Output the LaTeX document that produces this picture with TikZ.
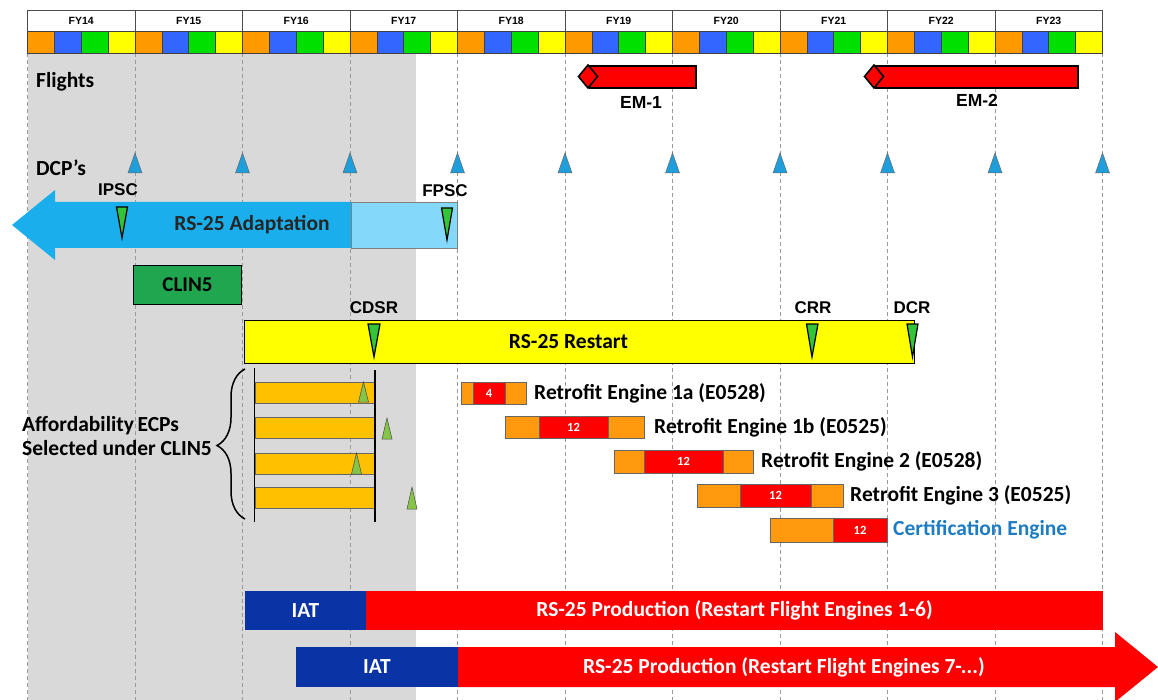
\documentclass[tikz,border=0pt]{standalone}
\usepackage{fontspec}
\setmainfont{Carlito}
\newfontfamily\arialf{Liberation Sans}
\usetikzlibrary{decorations.pathreplacing}
\definecolor{graybg}{HTML}{D9D9D9}
\definecolor{qorange}{HTML}{FF9900}
\definecolor{qblue}{HTML}{3366FF}
\definecolor{qgreen}{HTML}{00E000}
\definecolor{qyellow}{HTML}{FFFF00}
\definecolor{adaptblue}{HTML}{1AAFEC}
\definecolor{adaptlight}{HTML}{84D8FA}
\definecolor{clingreen}{HTML}{1FA64F}
\definecolor{dcpblue}{HTML}{1E9FDB}
\definecolor{msgreen}{HTML}{33C43A}
\definecolor{ecpgreen}{HTML}{86C448}
\definecolor{ecporange}{HTML}{FFC000}
\definecolor{retorange}{HTML}{FF9A0E}
\definecolor{barred}{HTML}{FF0000}
\definecolor{iatblue}{HTML}{0A33A6}
\definecolor{certblue}{HTML}{1E7CC2}
\begin{document}
\begin{tikzpicture}[x=1pt,y=-1pt,
  gridline/.style={draw=gray!80, dashed, line width=0.6pt, dash pattern=on 4pt off 3pt},
  fybox/.style={draw=gray!60!black, line width=0.6pt, fill=white, minimum width=107.5pt, minimum height=21.5pt, inner sep=0pt, font=\arialf\bfseries\fontsize{10.5}{12}\selectfont},
  cell/.style={draw=black!75, line width=0.6pt},
  dcp/.style={fill=dcpblue, draw=black!60, line width=0.5pt},
  ms/.style={fill=msgreen, draw=black, line width=1.2pt, line join=miter},
  ecp/.style={fill=ecpgreen, draw=black!70, line width=0.5pt},
  arl/.style={font=\arialf\bfseries\fontsize{17}{19}\selectfont, inner sep=0pt},
  cal/.style={font=\bfseries\fontsize{21.5}{24}\selectfont, inner sep=0pt},
  num/.style={font=\bfseries\fontsize{12.5}{14}\selectfont, text=white, inner sep=0pt},
  retbox/.style={fill=retorange, draw=black!60, line width=0.6pt},
  redbox/.style={fill=barred, draw=black!60, line width=0.6pt},
  ecpbar/.style={fill=ecporange, draw=black!60, line width=0.5pt},
  flight/.style={fill=barred, draw=black, line width=1.6pt},
  bracestyle/.style={draw=black, line width=1.5pt, decorate, decoration={brace, amplitude=28pt, aspect=0.49}}
]
\useasboundingbox (0,0) rectangle (1158,700);
% background grey region
\fill[graybg] (27.5,53) rectangle (416,700);
% grid lines
\foreach \i in {0,...,10} \draw[gridline] ({27.5+107.5*\i},53) -- ({27.5+107.5*\i},700);
% header
\foreach \i/\lab in {0/FY14,1/FY15,2/FY16,3/FY17,4/FY18,5/FY19,6/FY20,7/FY21,8/FY22,9/FY23}{
  \node[fybox] (fy\i) at ({27.5+107.5*\i+53.75},20.75) {\lab};
  \foreach \q/\c in {0/qorange,1/qblue,2/qgreen,3/qyellow}
    \draw[cell, fill=\c] ({27.5+107.5*\i+26.875*\q},31.5) rectangle ++(26.875,21.5);
}
% Flights
\node[cal, anchor=west] (flights) at (36,82) {Flights};
\draw[flight] (590,66) rectangle (696,88);
\draw[flight] (588,65) -- (597.5,76.5) -- (588,88) -- (578.5,76.5) -- cycle;
\node[arl, font=\arialf\bfseries\fontsize{17.5}{19}\selectfont] (em1) at (641,102) {EM-1};
\draw[flight] (876,66) rectangle (1078,88);
\draw[flight] (874,65) -- (883.5,76.5) -- (874,88) -- (864.5,76.5) -- cycle;
\node[arl, font=\arialf\bfseries\fontsize{17.5}{19}\selectfont] (em2) at (977,100) {EM-2};
% DCP's
\node[cal, anchor=west] (dcp) at (36,168) {DCP’s};
\foreach \i in {1,...,10} \draw[dcp] ({27.5+107.5*\i},153) -- ({27.5+107.5*\i+7},173) -- ({27.5+107.5*\i-7},173) -- cycle;
% RS-25 Adaptation arrow
\fill[adaptblue] (12,225) -- (55,190) -- (55,202) -- (351,202) -- (351,248) -- (55,248) -- (55,260) -- cycle;
\fill[adaptlight] (351,202) rectangle (457,248);
\draw[black!50, line width=0.5pt] (351,202) -- (457,202) -- (457,248) -- (351,248) -- cycle;
\node[cal, text=black!85] (adapt) at (252,225) {RS-25 Adaptation};
\node[arl] (ipsc) at (118,190) {IPSC};
\draw[ms] (116.5,207) -- (127.5,207) -- (122,238) -- cycle;
\node[arl] (fpsc) at (445,191) {FPSC};
\draw[ms] (441.5,208) -- (452.5,208) -- (447,240) -- cycle;
% CLIN5
\node[draw=black, line width=1pt, fill=clingreen, minimum width=108pt, minimum height=39pt, inner sep=0pt, font=\bfseries\fontsize{21}{24}\selectfont] (clin5) at (187.5,285) {CLIN5};
% RS-25 Restart
\draw[black, line width=1pt, fill=qyellow] (244,320.5) rectangle (914,363.5);
\node[cal] (restart) at (568.5,342) {RS-25 Restart};
\node[arl] (cdsr) at (374,308) {CDSR};
\draw[ms] (368,324) -- (380,324) -- (374,357) -- cycle;
\node[arl] (crr) at (813,308) {CRR};
\draw[ms] (806.5,324) -- (818,324) -- (812,357) -- cycle;
\node[arl] (dcr) at (912,308) {DCR};
\draw[ms] (907,324) -- (918,324) -- (912.5,357) -- cycle;
% Affordability ECPs
\node[cal, anchor=west] (aff1) at (22,426) {Affordability\,ECPs};
\node[cal, anchor=west] (aff2) at (22,448) {Selected under CLIN5};
\draw[bracestyle] (245,519) -- (245,369);
\foreach \y in {382,417,453,487} \draw[ecpbar] (255,\y) rectangle (375,\y+21);
\draw[black, line width=1.4pt] (254.5,368) -- (254.5,522);
\draw[black, line width=1.4pt] (375,370) -- (375,522);
\draw[ecp] (363.5,382) -- (368.5,402) -- (358.5,402) -- cycle;
\draw[ecp] (387,418) -- (392,439) -- (382,439) -- cycle;
\draw[ecp] (356.5,453) -- (361.5,474) -- (351.5,474) -- cycle;
\draw[ecp] (412,487) -- (417,509) -- (407,509) -- cycle;
% Retrofit engines
\draw[retbox] (461,382) rectangle (526,404);
\draw[redbox] (473,382) rectangle (505,404);
\node[num] (n1a) at (489,393) {4};
\node[cal, anchor=west] (r1a) at (534,393) {Retrofit Engine 1a (E0528)};
\draw[retbox] (505,416) rectangle (644,438);
\draw[redbox] (539,416) rectangle (608,438);
\node[num] (n1b) at (573.5,427) {12};
\node[cal, anchor=west] (r1b) at (654,427) {Retrofit Engine 1b (E0525)};
\draw[retbox] (614,450) rectangle (753,473);
\draw[redbox] (644,450) rectangle (723,473);
\node[num] (n2) at (683.5,461.5) {12};
\node[cal, anchor=west] (r2) at (761,461.5) {Retrofit Engine 2 (E0528)};
\draw[retbox] (697,484) rectangle (843,507);
\draw[redbox] (740,484) rectangle (811,507);
\node[num] (n3) at (775.5,495.5) {12};
\node[cal, anchor=west] (r3) at (850,495.5) {Retrofit Engine 3 (E0525)};
\draw[retbox] (770,518) rectangle (887,542);
\draw[redbox] (833,518) rectangle (887,542);
\node[num] (nc) at (860,530) {12};
\node[cal, anchor=west, text=certblue] (rc) at (893,530) {Certification Engine};
% Production bars
\fill[iatblue] (245,591) rectangle (366,630);
\fill[barred] (366,591) rectangle (1103,630);
\node[cal, text=white] (iat1) at (305.5,610.5) {IAT};
\node[cal, text=white] (prod1) at (734.5,610.5) {RS-25 Production (Restart Flight Engines 1-6)};
\fill[iatblue] (296,647) rectangle (458,687);
\fill[barred] (458,647) -- (1115,647) -- (1115,632) -- (1158,667) -- (1115,702) -- (1115,687) -- (458,687) -- cycle;
\node[cal, text=white] (iat2) at (377,667) {IAT};
\node[cal, text=white, anchor=west] (prod2) at (583,667) {RS-25 Production (Restart Flight Engines 7-...)};
\end{tikzpicture}
\end{document}
